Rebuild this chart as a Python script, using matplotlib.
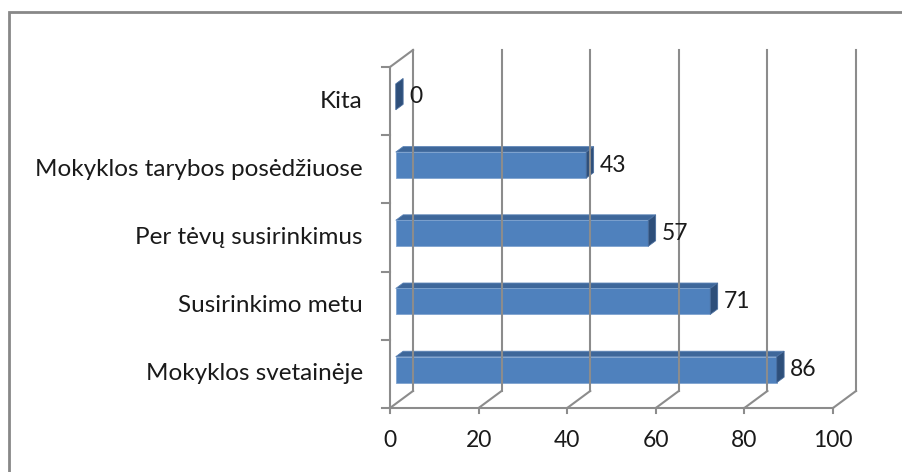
import numpy as np
import matplotlib
matplotlib.use("Agg")
import matplotlib.pyplot as plt
from matplotlib.patches import Polygon, Rectangle
from matplotlib.transforms import ScaledTranslation

categories = ["Mokyklos svetainėje", "Susirinkimo metu", "Per tėvų susirinkimus",
              "Mokyklos tarybos posėdžiuose", "Kita"]
values = [86, 71, 57, 43, 0]
x_ticks = [0, 20, 40, 60, 80, 100]

FRONT = "#4F81BD"
TOP = "#3E679A"
SIDE = "#2E4F7A"
GRID = "#8C8C8C"

plt.rcParams["font.family"] = ["Lato", "DejaVu Sans"]

fig = plt.figure(figsize=(9.03, 4.72), dpi=100)
W, H = 903, 472
ax = fig.add_axes([390 / W, (H - 408) / H, 443 / W, 341 / H])
ax.set_xlim(0, 100)
ax.set_ylim(-0.5, len(categories) - 0.5)
ax.axis("off")

# outer chart frame
fig.patches.append(Rectangle((9 / W, -0.1), 1.2, (H - 12) / H + 0.1,
                             transform=fig.transFigure, fill=False,
                             edgecolor="#888888", lw=2))

# depth of the 3D box in data units
ddx, ddy = 5.2, 0.25
ytop = len(categories) - 0.5
ybot = -0.5

# back wall gridlines + floor lines
for v in x_ticks:
    ax.plot([v + ddx, v + ddx], [ybot + ddy, ytop + ddy], color=GRID, lw=1.5, clip_on=False)
    ax.plot([v, v + ddx], [ybot, ybot + ddy], color=GRID, lw=1.5, clip_on=False)
    ax.plot([v, v], [ybot, ybot - 0.08], color=GRID, lw=1.5, clip_on=False)
    ax.text(v, ybot - 0.47, str(v), ha="center", va="center", fontsize=16.5, color="#1a1a1a")

# front floor edge and left wall
ax.plot([0, 100], [ybot, ybot], color=GRID, lw=1.5, clip_on=False)
ax.plot([0, 0], [ybot, ytop], color=GRID, lw=1.5, clip_on=False)
ax.plot([0, ddx], [ytop, ytop + ddy], color=GRID, lw=1.5, clip_on=False)
for b in np.arange(ybot, ytop + 0.01, 1.0):
    ax.plot([-1.8, 0], [b, b], color=GRID, lw=1.5, clip_on=False)

# bars
f0 = 0.25
bd = 0.32
bh = 0.38
for i, (cat, v) in enumerate(zip(categories, values)):
    x0 = f0 * ddx
    yc = i + f0 * ddy
    y0, y1 = yc - bh / 2, yc + bh / 2
    ox, oy = bd * ddx, bd * ddy
    if v > 0:
        ax.add_patch(Polygon([(x0, y1), (x0 + v, y1), (x0 + v + ox, y1 + oy), (x0 + ox, y1 + oy)],
                             closed=True, facecolor=TOP, edgecolor="#5A82B5", lw=0.6, clip_on=False))
        ax.add_patch(Rectangle((x0, y0), v, bh, facecolor=FRONT, edgecolor="#7FA3CF",
                               lw=0.6, clip_on=False))
    ax.add_patch(Polygon([(x0 + v, y0), (x0 + v + ox, y0 + oy), (x0 + v + ox, y1 + oy), (x0 + v, y1)],
                         closed=True, facecolor=SIDE, edgecolor="#4A6E9E", lw=0.6, clip_on=False))
    ax.text(x0 + v + ox, yc, str(v), ha="left", va="center", fontsize=16.5, color="#1a1a1a",
            transform=ax.transData + ScaledTranslation(6 / 100, 0, fig.dpi_scale_trans))
    ax.text(0, i, cat, ha="right", va="center", fontsize=17.5, color="#1a1a1a",
            transform=ax.transData + ScaledTranslation(-27 / 100, 0, fig.dpi_scale_trans))

fig.savefig("out.png", dpi=100)
